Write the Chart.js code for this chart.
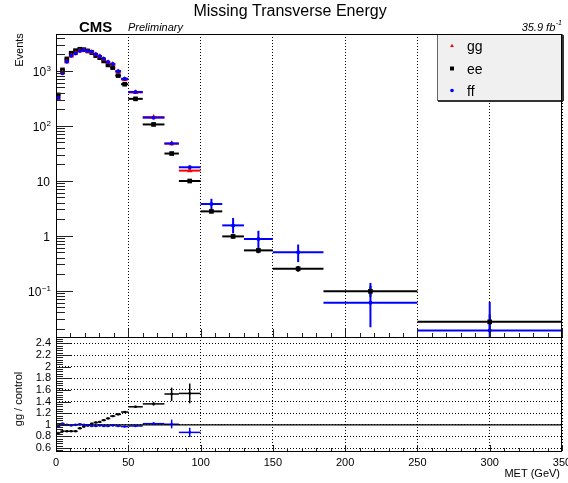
<!DOCTYPE html>
<html>
<head>
<meta charset="utf-8">
<title>Missing Transverse Energy</title>
<script src="https://cdn.jsdelivr.net/npm/chart.js@4.4.1/dist/chart.umd.min.js"></script>
<style>
  html, body { margin: 0; padding: 0; background: #fff; }
  #wrap { position: relative; width: 568px; height: 483px; overflow: hidden; }
  #wrap canvas { position: absolute; left: 0; top: 0; }
</style>
</head>
<body>
<div id="wrap">
  <canvas id="mainPad" width="568" height="483"></canvas>
  <canvas id="ratioPad" width="568" height="483"></canvas>
</div>
<script>
// MET binning (GeV)
const binEdges = [0, 3, 6, 9, 12, 15, 18, 20.5, 23.5, 26, 29, 31.5, 34.5, 37.5, 41, 45, 50,
                  60, 75, 85, 100, 115, 130, 150, 185, 250, 350];

// event counts per bin
const eeEvents = [366, 1043, 1653, 2099, 2339, 2481, 2440, 2310, 2153, 1898, 1743, 1520, 1285, 1148, 822, 573,
                  310, 106, 31.3, 9.9, 2.77, 0.97, 0.54, 0.25, 0.097, 0.027];
const ggEvents = [315, 930, 1470, 1870, 2080, 2330, 2370, 2290, 2200, 1970, 1830, 1640, 1430, 1320, 970, 700,
                  406, 144, 47.6, 15.3];
const ffEvents = [325, 910, 1470, 1890, 2080, 2310, 2370, 2310, 2240, 2010, 1850, 1670, 1460, 1330, 990, 720,
                  414, 141, 47.6, 17.6, 3.77, 1.54, 0.87, 0.50, 0.060, 0.0187];

// vertical error bar ends (null = too small to see)
const eeLow  = [null, null, null, null, null, null, null, null, null, null, null, null, null, null, null, null,
                null, null, null, 9.4, 2.6, 0.89, 0.48, 0.22, 0.077, 0.019];
const eeHigh = [null, null, null, null, null, null, null, null, null, null, null, null, null, null, null, null,
                null, null, null, 10.4, 2.95, 1.05, 0.60, 0.28, 0.122, 0.037];
const ffLow  = [null, null, null, null, null, null, null, null, null, null, null, null, null, null, null, null,
                null, null, null, 16.2, 3.0, 1.1, 0.58, 0.33, 0.0215, 0.001];
const ffHigh = [null, null, null, null, null, null, null, null, null, null, null, null, null, null, null, null,
                null, null, null, 19.0, 4.7, 2.1, 1.23, 0.69, 0.138, 0.062];

// gg / control ratios
const ratioEe = [0.86, 0.89, 0.89, 0.89, 0.89, 0.94, 0.97, 0.99, 1.02, 1.04, 1.05, 1.08, 1.11, 1.15, 1.18, 1.22,
                 1.31, 1.36, 1.53, 1.54];
const ratioFf = [0.97, 1.02, 1.00, 0.99, 1.00, 1.01, 1.00, 0.99, 0.98, 0.98, 0.99, 0.98, 0.98, 0.99, 0.98, 0.97,
                 0.98, 1.02, 1.01, 0.87];
const ratioEeLow  = [null, null, null, null, null, null, null, null, null, null, null, null, null, null, null, null,
                     1.29, 1.33, 1.41, 1.37];
const ratioEeHigh = [null, null, null, null, null, null, null, null, null, null, null, null, null, null, null, null,
                     1.33, 1.39, 1.64, 1.71];
const ratioFfLow  = [null, null, null, null, null, null, null, null, null, null, null, null, null, null, null, null,
                     null, 1.00, 0.94, 0.79];
const ratioFfHigh = [null, null, null, null, null, null, null, null, null, null, null, null, null, null, null, null,
                     null, 1.04, 1.09, 0.95];

const xTicks = [0, 50, 100, 150, 200, 250, 300, 350];

const RED = '#ff0000';
const BLUE = '#0000ff';
const BLACK = '#000000';
const FONT = "'Liberation Sans', Arial, Helvetica, sans-serif";

Chart.defaults.font.family = FONT;
Chart.defaults.color = '#000';

function binPoints(values) {
  return values.map((v, i) => ({ x: (binEdges[i] + binEdges[i + 1]) / 2, y: v }));
}

function line(ctx, x1, y1, x2, y2) {
  ctx.beginPath();
  ctx.moveTo(x1, y1);
  ctx.lineTo(x2, y2);
  ctx.stroke();
}

// horizontal bars span the bin, vertical bars the given low/high
function errorBars(id, series) {
  return {
    id,
    beforeDatasetsDraw(chart) {
      const { ctx, chartArea: a, scales: { x, y } } = chart;
      ctx.save();
      ctx.beginPath();
      ctx.rect(a.left, a.top, a.right - a.left, a.bottom - a.top);
      ctx.clip();
      series.forEach(s => {
        ctx.strokeStyle = s.color;
        ctx.lineWidth = s.width;
        s.values.forEach((v, i) => {
          const py = y.getPixelForValue(v);
          const x0 = x.getPixelForValue(binEdges[i]);
          const x1 = x.getPixelForValue(binEdges[i + 1]);
          const xc = x.getPixelForValue((binEdges[i] + binEdges[i + 1]) / 2);
          line(ctx, x0, py, x1, py);
          if (s.low && s.low[i] != null) {
            line(ctx, xc, y.getPixelForValue(s.low[i]), xc, y.getPixelForValue(s.high[i]));
          }
        });
      });
      ctx.restore();
    }
  };
}

function frame(ctx, a) {
  ctx.strokeStyle = '#000';
  ctx.lineWidth = 1;
  ctx.strokeRect(Math.round(a.left) + 0.5, Math.round(a.top) + 0.5,
                 Math.round(a.right - a.left) - 1, Math.round(a.bottom - a.top));
}

// ticks drawn inside the frame, ROOT style
function xTickMarks(ctx, a, x, majLen, minLen) {
  ctx.strokeStyle = '#222';
  ctx.lineWidth = 1;
  for (let v = 0; v <= 350; v += 10) {
    const px = Math.round(x.getPixelForValue(v)) + 0.5;
    const len = v % 50 === 0 ? majLen : minLen;
    line(ctx, px, a.bottom, px, a.bottom - len);
  }
}

function text(ctx, str, x, y, font, align, baseline, color) {
  ctx.font = font;
  ctx.textAlign = align || 'left';
  ctx.textBaseline = baseline || 'alphabetic';
  ctx.fillStyle = color || '#000';
  ctx.fillText(str, x, y);
}

function powerLabel(ctx, exp, xRight, yMid) {
  const base = '12px ' + FONT;
  const sup = '8px ' + FONT;
  if (exp === 0 || exp === 1) {
    text(ctx, exp === 0 ? '1' : '10', xRight - 1, yMid + 4, base, 'right');
    return;
  }
  const s = String(exp).replace('-', '\u2212');
  ctx.font = sup;
  const w = ctx.measureText(s).width;
  text(ctx, s, xRight, yMid - 1, sup, 'right');
  text(ctx, '10', xRight - w - 0.5, yMid + 4, base, 'right');
}

const mainDecor = {
  id: 'mainDecor',
  afterDraw(chart) {
    const { ctx, chartArea: a, scales: { x, y } } = chart;
    ctx.save();

    // log axis ticks
    ctx.strokeStyle = '#222';
    ctx.lineWidth = 1;
    for (let d = -2; d <= 3; d++) {
      for (let k = 1; k <= 9; k++) {
        const v = k * Math.pow(10, d);
        if (v < y.min || v > y.max) continue;
        const py = Math.round(y.getPixelForValue(v)) + 0.5;
        line(ctx, a.left, py, a.left + (k === 1 ? 17 : 9), py);
        if (k === 1) powerLabel(ctx, d, 51, py);
      }
    }
    xTickMarks(ctx, a, x, 8, 4);

    // legend box
    const lx = 437, ly = 34, lw = 126, lh = 67;
    ctx.fillStyle = '#f0f0f0';
    ctx.fillRect(lx, ly, lw, lh);
    ctx.strokeStyle = '#666';
    ctx.lineWidth = 1;
    ctx.strokeRect(lx + 0.5, ly + 0.5, lw - 1, lh - 1);
    ctx.strokeStyle = '#333';
    ctx.lineWidth = 2;
    line(ctx, lx + 1, ly + lh, lx + lw, ly + lh);
    line(ctx, lx + lw, ly + 1, lx + lw, ly + lh);

    const entries = [
      { label: 'gg', color: RED, style: 'triangle', r: 2.2, y: 46 },
      { label: 'ee', color: BLACK, style: 'rect', r: 2.8, y: 68.5 },
      { label: 'ff', color: BLUE, style: 'circle', r: 1.8, y: 90.5 }
    ];
    entries.forEach(e => {
      ctx.fillStyle = e.color;
      Chart.helpers.drawPoint(ctx, { pointStyle: e.style, radius: e.r, rotation: 0, borderWidth: 0 }, 452, e.y);
      text(ctx, e.label, 467, e.y + 5, '14px ' + FONT);
    });

    frame(ctx, a);

    // titles
    text(ctx, 'Missing Transverse Energy', 290, 16, '16px ' + FONT, 'center');
    text(ctx, 'CMS', 79, 31.5, 'bold 15px ' + FONT);
    text(ctx, 'Preliminary', 128, 30.5, 'italic 11px ' + FONT);
    ctx.font = 'italic 7px ' + FONT;
    const supW = ctx.measureText('-1').width;
    text(ctx, '-1', 562, 25, 'italic 7px ' + FONT, 'right');
    text(ctx, '35.9 fb', 562 - supW - 0.5, 30.5, 'italic 11px ' + FONT, 'right');

    ctx.translate(20, 50);
    ctx.rotate(-Math.PI / 2);
    text(ctx, 'Events', 0, 0, '11px ' + FONT, 'center', 'middle');
    ctx.restore();
  }
};

const ratioDecor = {
  id: 'ratioDecor',
  afterDraw(chart) {
    const { ctx, chartArea: a, scales: { x, y } } = chart;
    ctx.save();
    ctx.strokeStyle = '#222';
    ctx.lineWidth = 1;
    for (let i = 0; i <= 60; i++) {
      const v = 0.4 + i * 0.04;
      if (v < y.min || v > y.max) continue;
      const py = Math.round(y.getPixelForValue(v)) + 0.5;
      line(ctx, a.left, py, a.left + (i % 5 === 0 ? 15 : 7), py);
    }
    xTickMarks(ctx, a, x, 6, 3);
    frame(ctx, a);

    text(ctx, 'MET (GeV)', 560, 477, '11px ' + FONT, 'right');
    ctx.translate(19, 399);
    ctx.rotate(-Math.PI / 2);
    text(ctx, 'gg / control', 0, 0, '11px ' + FONT, 'center', 'middle');
    ctx.restore();
  }
};

const dotted = { display: false, dash: [1, 2] };

new Chart(document.getElementById('mainPad'), {
  type: 'scatter',
  data: {
    datasets: [
      { label: 'ff', data: binPoints(ffEvents), pointStyle: 'circle', pointRadius: 2,
        pointBackgroundColor: BLUE, pointBorderWidth: 0, order: 0 },
      { label: 'gg', data: binPoints(ggEvents), pointStyle: 'triangle', pointRadius: 3.2,
        pointBackgroundColor: RED, pointBorderWidth: 0, order: 1 },
      { label: 'ee', data: binPoints(eeEvents), pointStyle: 'rect', pointRadius: 3.3,
        pointBackgroundColor: BLACK, pointBorderWidth: 0, order: 2 }
    ]
  },
  options: {
    responsive: false,
    animation: false,
    devicePixelRatio: 1,
    layout: { padding: { left: 56, right: 6, top: 34, bottom: 146 } },
    plugins: { legend: { display: false }, tooltip: { enabled: false } },
    scales: {
      x: {
        type: 'linear', min: 0, max: 350,
        afterBuildTicks: s => { s.ticks = xTicks.map(v => ({ value: v })); },
        ticks: { display: false },
        grid: { color: '#000', lineWidth: 1, drawTicks: false },
        border: dotted,
        afterFit: s => { s.height = 0; s.paddingLeft = 0; s.paddingRight = 0; }
      },
      y: {
        type: 'logarithmic', min: 0.0143, max: 4700,
        ticks: { display: false },
        grid: { display: false, drawTicks: false },
        border: { display: false },
        afterFit: s => { s.width = 0; s.paddingTop = 0; s.paddingBottom = 0; }
      }
    }
  },
  plugins: [
    errorBars('mainBars', [
      { values: eeEvents, low: eeLow, high: eeHigh, color: BLACK, width: 2 },
      { values: ggEvents, color: RED, width: 2 },
      { values: ffEvents, low: ffLow, high: ffHigh, color: BLUE, width: 2 }
    ]),
    mainDecor
  ]
});

new Chart(document.getElementById('ratioPad'), {
  type: 'scatter',
  data: {
    datasets: [
      { label: 'gg/ff', data: binPoints(ratioFf), pointStyle: 'circle', pointRadius: 1.3,
        pointBackgroundColor: BLUE, pointBorderWidth: 0, order: 0 },
      { label: 'gg/ee', data: binPoints(ratioEe), pointStyle: 'rect', pointRadius: 1.6,
        pointBackgroundColor: BLACK, pointBorderWidth: 0, order: 1 },
      { type: 'line', label: 'unity', data: [{ x: 0, y: 1 }, { x: 350, y: 1 }],
        borderColor: BLACK, borderWidth: 1.2, pointRadius: 0, order: 2 }
    ]
  },
  options: {
    responsive: false,
    animation: false,
    devicePixelRatio: 1,
    layout: { padding: { left: 0, right: 6, top: 337, bottom: 0 } },
    plugins: { legend: { display: false }, tooltip: { enabled: false } },
    scales: {
      x: {
        type: 'linear', min: 0, max: 350,
        afterBuildTicks: s => { s.ticks = xTicks.map(v => ({ value: v })); },
        ticks: { font: { size: 11 }, color: '#000', padding: 5, maxRotation: 0, autoSkip: false },
        grid: { color: '#000', lineWidth: 1, drawTicks: false },
        border: dotted,
        afterFit: s => { s.height = 32; s.paddingLeft = 0; s.paddingRight = 0; }
      },
      y: {
        type: 'linear', min: 0.55, max: 2.51,
        ticks: {
          stepSize: 0.2, includeBounds: false, autoSkip: false, font: { size: 11 }, color: '#000', padding: 5,
          callback: v => String(+v.toFixed(1))
        },
        grid: { color: '#000', lineWidth: 1, drawTicks: false },
        border: dotted,
        afterFit: s => { s.width = 56; s.paddingTop = 0; s.paddingBottom = 0; }
      }
    }
  },
  plugins: [
    errorBars('ratioBars', [
      { values: ratioEe, low: ratioEeLow, high: ratioEeHigh, color: BLACK, width: 1.5 },
      { values: ratioFf, low: ratioFfLow, high: ratioFfHigh, color: BLUE, width: 1.5 }
    ]),
    ratioDecor
  ]
});
</script>
</body>
</html>
